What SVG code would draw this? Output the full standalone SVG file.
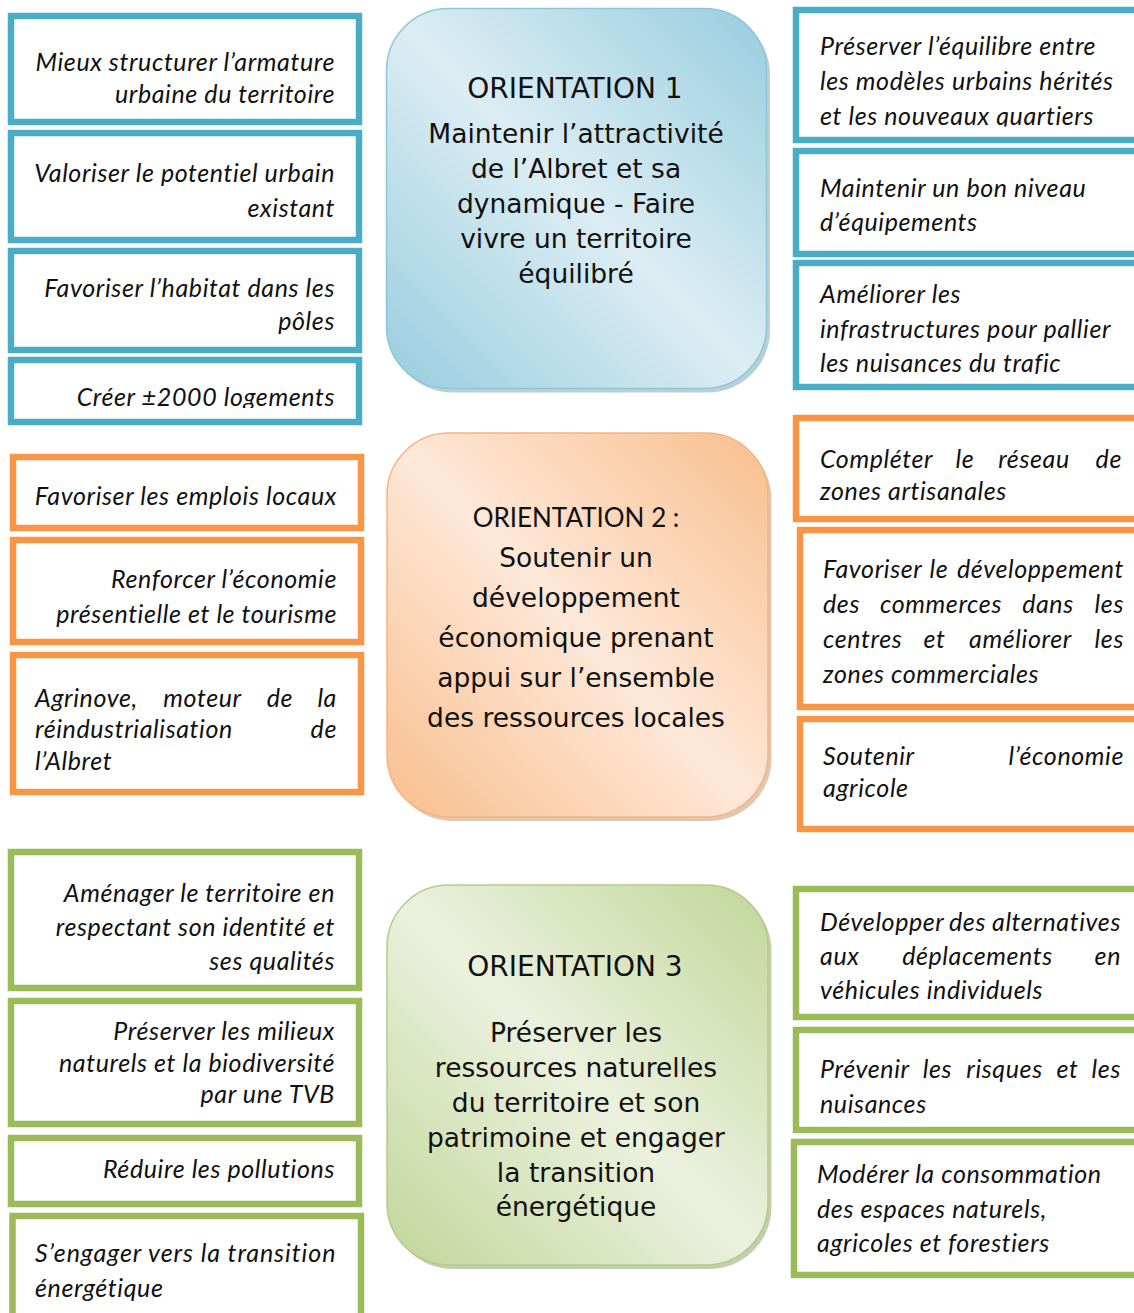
<svg xmlns="http://www.w3.org/2000/svg" width="1134" height="1313" viewBox="0 0 1134 1313">
<style>
.bb{fill:#fff;stroke:#4bacc6;stroke-width:6.5}
.ob{fill:#fff;stroke:#f79646;stroke-width:6.5}
.gb{fill:#fff;stroke:#9bbb59;stroke-width:6.5}
.t{font-family:Lato,"Liberation Sans",sans-serif;font-style:italic;font-size:25px;letter-spacing:0.6px;fill:#111}
.r{text-anchor:end}
.m{text-anchor:middle}
.e{text-anchor:end}
.c{font-family:"DejaVu Sans",Verdana,sans-serif;font-size:26.5px;fill:#111;text-anchor:middle}
.h{font-size:28px}
.c2{font-family:Lato,"Liberation Sans",sans-serif;font-size:26px;fill:#111;text-anchor:middle}
</style>
<defs>
<linearGradient id="gB" x1="1" y1="0" x2="0" y2="1"><stop offset="0" stop-color="#98cddf"/><stop offset="0.5" stop-color="#dcedf3"/><stop offset="1" stop-color="#98cddf"/></linearGradient>
<linearGradient id="gO" x1="1" y1="0" x2="0" y2="1"><stop offset="0" stop-color="#f9be8c"/><stop offset="0.5" stop-color="#fde8d8"/><stop offset="1" stop-color="#f9be8c"/></linearGradient>
<linearGradient id="gG" x1="1" y1="0" x2="0" y2="1"><stop offset="0" stop-color="#c2d69a"/><stop offset="0.5" stop-color="#ebf1de"/><stop offset="1" stop-color="#c2d69a"/></linearGradient>
<clipPath id="cl1"><rect x="0" y="0" width="400" height="408"/></clipPath>
<clipPath id="cr1"><rect x="780" y="0" width="354" height="126.5"/></clipPath>
<clipPath id="cr3"><rect x="780" y="260" width="354" height="114"/></clipPath>
</defs>

<g id="orientation1">
<rect x="390" y="12.5" width="380" height="380" rx="62" fill="#7ea9b8" opacity="0.55"/>
<rect x="386.5" y="8.5" width="380" height="380" rx="62" fill="url(#gB)" stroke="#8ec6d8" stroke-width="1.5"/>
<text class="c h" x="575" y="98">ORIENTATION 1</text>
<text class="c" x="576" y="143">Maintenir l’attractivité</text>
<text class="c" x="576" y="178">de l’Albret et sa</text>
<text class="c" x="576" y="213">dynamique - Faire</text>
<text class="c" x="576" y="248">vivre un territoire</text>
<text class="c" x="576" y="283">équilibré</text>
</g>

<g id="orientation2">
<rect x="390.5" y="437" width="381" height="384" rx="62" fill="#c49a72" opacity="0.55"/>
<rect x="387" y="433" width="381" height="384" rx="62" fill="url(#gO)" stroke="#f4b483" stroke-width="1.5"/>
<text class="c2" x="576" y="527">ORIENTATION 2 :</text>
<text class="c" x="576" y="567">Soutenir un</text>
<text class="c" x="576" y="607">développement</text>
<text class="c" x="576" y="647">économique prenant</text>
<text class="c" x="576" y="687">appui sur l’ensemble</text>
<text class="c" x="576" y="727">des ressources locales</text>
</g>

<g id="orientation3">
<rect x="390.5" y="889" width="381" height="380" rx="62" fill="#93a56c" opacity="0.55"/>
<rect x="387" y="885" width="381" height="380" rx="62" fill="url(#gG)" stroke="#b3cb88" stroke-width="1.5"/>
<text class="c h" x="575" y="976">ORIENTATION 3</text>
<text class="c" x="576" y="1042">Préserver les</text>
<text class="c" x="576" y="1077">ressources naturelles</text>
<text class="c" x="576" y="1112">du territoire et son</text>
<text class="c" x="576" y="1147">patrimoine et engager</text>
<text class="c" x="576" y="1182">la transition</text>
<text class="c" x="576" y="1216">énergétique</text>
</g>

<g id="b-l1"><rect class="bb" x="11" y="16" width="348" height="106"/>
<text class="t r" x="335" y="71">Mieux structurer l’armature</text>
<text class="t r" x="335" y="103">urbaine du territoire</text></g>
<g id="b-l2"><rect class="bb" x="11" y="133" width="348" height="107"/>
<text class="t r" x="335" y="182">Valoriser le potentiel urbain</text>
<text class="t r" x="335" y="217">existant</text></g>
<g id="b-l3"><rect class="bb" x="11" y="251" width="348" height="99"/>
<text class="t r" x="335" y="297">Favoriser l’habitat dans les</text>
<text class="t r" x="335" y="330">pôles</text></g>
<g id="b-l4"><rect class="bb" x="11" y="360" width="348" height="62"/>
<text class="t r" x="335" y="406" clip-path="url(#cl1)">Créer ±2000 logements</text></g>

<g id="b-r1"><rect class="bb" x="796" y="10" width="344" height="130"/>
<g clip-path="url(#cr1)">
<text class="t" x="820" y="55">Préserver l’équilibre entre</text>
<text class="t" x="820" y="90">les modèles urbains hérités</text>
<text class="t" x="820" y="125">et les nouveaux quartiers</text></g></g>
<g id="b-r2"><rect class="bb" x="796" y="151" width="344" height="103"/>
<text class="t" x="820" y="197">Maintenir un bon niveau</text>
<text class="t" x="820" y="231">d’équipements</text></g>
<g id="b-r3"><rect class="bb" x="796" y="263" width="344" height="124"/>
<g clip-path="url(#cr3)">
<text class="t" x="820" y="303">Améliorer les</text>
<text class="t" x="820" y="338">infrastructures pour pallier</text>
<text class="t" x="820" y="372">les nuisances du trafic</text></g></g>

<g id="o-l1"><rect class="ob" x="13" y="457" width="348" height="71"/>
<text class="t r" x="337" y="505">Favoriser les emplois locaux</text></g>
<g id="o-l2"><rect class="ob" x="13" y="540" width="348" height="102"/>
<text class="t r" x="337" y="588">Renforcer l’économie</text>
<text class="t r" x="337" y="623">présentielle et le tourisme</text></g>
<g id="o-l3"><rect class="ob" x="13" y="655" width="348" height="137"/>
<text class="t" y="707"><tspan x="35">Agrinove,</tspan><tspan class="m" x="202.5">moteur</tspan><tspan class="m" x="280">de</tspan><tspan class="e" x="337">la</tspan></text>
<text class="t" y="738"><tspan x="35">réindustrialisation</tspan><tspan class="e" x="337">de</tspan></text>
<text class="t" x="35" y="770">l’Albret</text></g>

<g id="o-r1"><rect class="ob" x="796" y="418" width="344" height="101"/>
<text class="t" y="468"><tspan x="820">Compléter</tspan><tspan class="m" x="965">le</tspan><tspan class="m" x="1034">réseau</tspan><tspan class="e" x="1122">de</tspan></text>
<text class="t" x="820" y="500">zones artisanales</text></g>
<g id="o-r2"><rect class="ob" x="800" y="530" width="340" height="177"/>
<text class="t" y="578"><tspan x="823">Favoriser</tspan><tspan class="m" x="939">le</tspan><tspan class="e" x="1124">développement</tspan></text>
<text class="t" y="613"><tspan x="823">des</tspan><tspan class="m" x="941">commerces</tspan><tspan class="m" x="1048">dans</tspan><tspan class="e" x="1124">les</tspan></text>
<text class="t" y="648"><tspan x="823">centres</tspan><tspan class="m" x="934.5">et</tspan><tspan class="m" x="1020.5">améliorer</tspan><tspan class="e" x="1124">les</tspan></text>
<text class="t" x="823" y="683">zones commerciales</text></g>
<g id="o-r3"><rect class="ob" x="800" y="719" width="340" height="110"/>
<text class="t" y="765"><tspan x="823">Soutenir</tspan><tspan class="e" x="1124">l’économie</tspan></text>
<text class="t" x="823" y="797">agricole</text></g>

<g id="g-l1"><rect class="gb" x="11" y="852" width="348" height="136"/>
<text class="t r" x="335" y="902">Aménager le territoire en</text>
<text class="t r" x="335" y="936">respectant son identité et</text>
<text class="t r" x="335" y="970">ses qualités</text></g>
<g id="g-l2"><rect class="gb" x="11" y="1001" width="348" height="123"/>
<text class="t r" x="335" y="1040">Préserver les milieux</text>
<text class="t r" x="335" y="1072">naturels et la biodiversité</text>
<text class="t r" x="335" y="1103">par une TVB</text></g>
<g id="g-l3"><rect class="gb" x="11" y="1138" width="348" height="66"/>
<text class="t r" x="335" y="1178">Réduire les pollutions</text></g>
<g id="g-l4"><rect class="gb" x="12.5" y="1216" width="348.5" height="110"/>
<text class="t" x="35" y="1262" textLength="301" lengthAdjust="spacing">S’engager vers la transition</text>
<text class="t" x="35" y="1297">énergétique</text></g>

<g id="g-r1"><rect class="gb" x="796" y="889" width="344" height="128"/>
<text class="t" y="931"><tspan x="820">Développer</tspan><tspan class="m" x="967.5">des</tspan><tspan class="e" x="1121">alternatives</tspan></text>
<text class="t" y="965"><tspan x="820">aux</tspan><tspan class="m" x="977.5">déplacements</tspan><tspan class="e" x="1121">en</tspan></text>
<text class="t" x="820" y="999">véhicules individuels</text></g>
<g id="g-r2"><rect class="gb" x="796" y="1030" width="344" height="100"/>
<text class="t" y="1078"><tspan x="820">Prévenir</tspan><tspan class="m" x="937.5">les</tspan><tspan class="m" x="1004.5">risques</tspan><tspan class="m" x="1067.5">et</tspan><tspan class="e" x="1121">les</tspan></text>
<text class="t" x="820" y="1113">nuisances</text></g>
<g id="g-r3"><rect class="gb" x="794" y="1142" width="346" height="133"/>
<text class="t" x="817" y="1183">Modérer la consommation</text>
<text class="t" x="817" y="1218">des espaces naturels,</text>
<text class="t" x="817" y="1252">agricoles et forestiers</text></g>

<g id="connectors"/>
</svg>
